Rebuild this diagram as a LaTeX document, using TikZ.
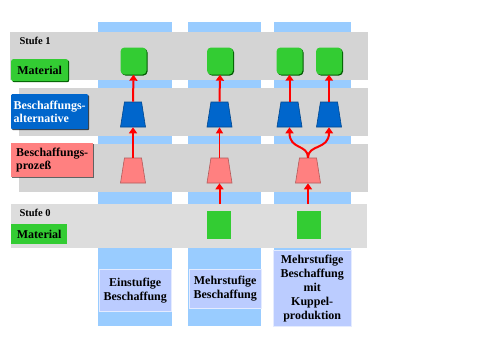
\documentclass[tikz,border=0pt]{standalone}
\usepackage{fontspec}
\setmainfont{Liberation Serif}
\usetikzlibrary{positioning,arrows.meta,shapes.geometric,shadows}

\definecolor{colblue}{HTML}{99CCFF}
\definecolor{bandgray}{HTML}{D4D4D4}
\definecolor{bandlight}{HTML}{DDDDDD}
\definecolor{matgreen}{HTML}{33CC33}
\definecolor{altblue}{HTML}{0066CC}
\definecolor{prozpink}{HTML}{FF8080}
\definecolor{notepale}{HTML}{BBCCFF}

\begin{document}
\begin{tikzpicture}[
    x=1pt, y=-1pt,
    font=\bfseries\fontsize{12}{13}\selectfont,
    column/.style={fill=colblue},
    band/.style={fill=bandgray},
    legend/.style={
        anchor=north west,
        inner xsep=2pt,
        inner ysep=0pt,
        align=left,
        font=\bfseries\fontsize{12}{13}\selectfont
    },
    note/.style={
        anchor=north west,
        fill=notepale,
        draw=white!60!notepale,
        inner sep=0pt,
        align=center,
        font=\bfseries\fontsize{12}{14}\selectfont,
        drop shadow={shadow xshift=1pt, shadow yshift=0pt, fill=black!60, opacity=0.8}
    },
    mat/.style={
        fill=matgreen,
        rounded corners=4pt,
        minimum width=26pt,
        minimum height=27pt,
        inner sep=0pt,
        drop shadow={shadow xshift=1pt, shadow yshift=-1pt, fill=green!35!black, opacity=1}
    },
    matflat/.style={
        fill=matgreen,
        minimum width=24pt,
        minimum height=28pt,
        inner sep=0pt
    },
    trap/.style={
        trapezium,
        trapezium left angle=77,
        trapezium right angle=77,
        trapezium stretches=true,
        minimum width=25pt,
        minimum height=25pt,
        inner sep=1pt
    },
    alt/.style={trap, fill=altblue, draw=altblue!70!black, line width=0.6pt},
    proz/.style={trap, fill=prozpink, draw=prozpink!70!black, line width=0.6pt},
    arrow/.style={-{Triangle[width=8pt,length=6pt]}, red, line width=2pt},
    thinarrow/.style={-{Triangle[width=7pt,length=6pt]}, red, line width=1pt}
]

\useasboundingbox (0,0) rectangle (479,359);

% columns
\fill[column] (98,22) rectangle (172,326);
\fill[column] (188,22) rectangle (261,326);
\fill[column] (274,22) rectangle (351,326);

% bands
\fill[band] (10,32) rectangle (368,80);
\fill[band] (19,88) rectangle (368,136);
\fill[band] (19,144) rectangle (368,192);
\fill[bandlight] (11,204) rectangle (367,248);

% notes below the columns
\node[note, minimum width=72pt, minimum height=42pt] (n1) at (99,269)
    {Einstufige\\Beschaffung};
\node[note, minimum width=72pt, minimum height=39pt] (n2) at (189,269)
    {Mehrstufige\\Beschaffung};
\node[note, minimum width=78pt, minimum height=76pt] (n3) at (273,250)
    {Mehrstufige\\Beschaffung\\mit\\Kuppel-\\produktion};

% legend
\node[anchor=base west, font=\bfseries\fontsize{10.5}{12}\selectfont] (st1) at (16,44) {Stufe 1};
\node[legend, fill=matgreen, rounded corners=2pt, minimum width=57pt, minimum height=22pt,
    drop shadow={shadow xshift=1pt, shadow yshift=-1pt, fill=green!35!black, opacity=1}]
    (lmat1) at (11,59) {Material};
\node[legend, fill=altblue, text=white, rounded corners=1pt, minimum width=77pt, minimum height=35pt,
    drop shadow={shadow xshift=1pt, shadow yshift=-1pt, fill=black, opacity=0.7}]
    (lalt) at (11,94) {Beschaffungs-\\alternative};
\node[legend, fill=prozpink, minimum width=82pt, minimum height=34pt,
    drop shadow={shadow xshift=1pt, shadow yshift=-1pt, fill=black!80, opacity=0.7}]
    (lproz) at (11,143) {Beschaffungs-\\prozeß};
\node[anchor=base west, font=\bfseries\fontsize{10.5}{12}\selectfont] (st0) at (16,216) {Stufe 0};
\node[legend, fill=matgreen, minimum width=56pt, minimum height=20pt] (lmat0) at (11,224) {Material};

% einstufig
\node[mat] (m1) at (133.5,61) {};
\node[alt] (a1) at (133,114.5) {};
\node[proz] (p1) at (133,170.5) {};
\draw[arrow] (p1.north) -- (a1.south);
\draw[arrow] (a1.north) -- (m1.south);

% mehrstufig
\node[mat] (m2) at (220,61) {};
\node[alt] (a2) at (219.5,114.5) {};
\node[proz] (p2) at (219.5,170.5) {};
\node[matflat] (s2) at (219,225) {};
\coordinate (in2) at (219.5,204);
\draw[thinarrow] (p2.north) -- (a2.south);
\draw[arrow] (a2.north) -- (m2.south);
\draw[arrow] (in2) -- (p2.south);

% kuppelproduktion
\node[mat] (m3l) at (289.5,61) {};
\node[mat] (m3r) at (329,61) {};
\node[alt] (a3l) at (289.5,114.5) {};
\node[alt] (a3r) at (329,114.5) {};
\node[proz] (p3) at (308,170.5) {};
\node[matflat] (s3) at (309,225) {};
\coordinate (in3) at (308,204);
\draw[arrow] (a3l.north) -- (m3l.south);
\draw[arrow] (a3r.north) -- (m3r.south);
\draw[arrow] (p3.north) .. controls (308,144) and (289.5,150) .. (a3l.south);
\draw[arrow] (p3.north) .. controls (308,144) and (329,150) .. (a3r.south);
\draw[arrow] (in3) -- (p3.south);

\end{tikzpicture}
\end{document}
